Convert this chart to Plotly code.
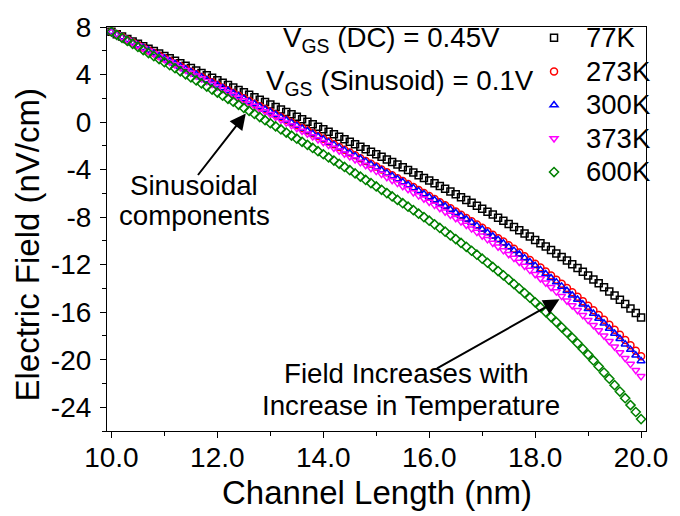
import plotly.graph_objects as go

channel_length = [
    10.0, 10.1, 10.2, 10.3, 10.4, 10.5, 10.6, 10.7, 10.8, 10.9,
    11.0, 11.1, 11.2, 11.3, 11.4, 11.5, 11.6, 11.7, 11.8, 11.9,
    12.0, 12.1, 12.2, 12.3, 12.4, 12.5, 12.6, 12.7, 12.8, 12.9,
    13.0, 13.1, 13.2, 13.3, 13.4, 13.5, 13.6, 13.7, 13.8, 13.9,
    14.0, 14.1, 14.2, 14.3, 14.4, 14.5, 14.6, 14.7, 14.8, 14.9,
    15.0, 15.1, 15.2, 15.3, 15.4, 15.5, 15.6, 15.7, 15.8, 15.9,
    16.0, 16.1, 16.2, 16.3, 16.4, 16.5, 16.6, 16.7, 16.8, 16.9,
    17.0, 17.1, 17.2, 17.3, 17.4, 17.5, 17.6, 17.7, 17.8, 17.9,
    18.0, 18.1, 18.2, 18.3, 18.4, 18.5, 18.6, 18.7, 18.8, 18.9,
    19.0, 19.1, 19.2, 19.3, 19.4, 19.5, 19.6, 19.7, 19.8, 19.9,
    20.0,
]

field_77K = [
    7.60, 7.40, 7.19, 6.99, 6.78, 6.58, 6.38, 6.17, 5.97, 5.76,
    5.56, 5.36, 5.15, 4.95, 4.74, 4.54, 4.34, 4.13, 3.93, 3.72,
    3.52, 3.31, 3.11, 2.91, 2.70, 2.50, 2.29, 2.09, 1.88, 1.68,
    1.47, 1.27, 1.06, 0.85, 0.65, 0.44, 0.23, 0.03, -0.18, -0.39,
    -0.60, -0.81, -1.02, -1.23, -1.44, -1.65, -1.86, -2.07, -2.29, -2.50,
    -2.71, -2.93, -3.15, -3.36, -3.58, -3.80, -4.03, -4.25, -4.47, -4.70,
    -4.92, -5.15, -5.38, -5.61, -5.85, -6.08, -6.32, -6.56, -6.80, -7.05,
    -7.29, -7.54, -7.79, -8.05, -8.31, -8.57, -8.83, -9.10, -9.37, -9.64,
    -9.92, -10.20, -10.48, -10.77, -11.06, -11.36, -11.66, -11.97, -12.28, -12.59,
    -12.92, -13.24, -13.57, -13.91, -14.25, -14.60, -14.96, -15.32, -15.69, -16.07,
    -16.45,
]

field_273K = [
    7.60, 7.38, 7.15, 6.93, 6.70, 6.48, 6.26, 6.03, 5.81, 5.58,
    5.36, 5.14, 4.91, 4.69, 4.46, 4.24, 4.02, 3.79, 3.57, 3.34,
    3.12, 2.89, 2.67, 2.44, 2.22, 2.00, 1.77, 1.55, 1.32, 1.09,
    0.87, 0.64, 0.42, 0.19, -0.04, -0.27, -0.49, -0.72, -0.95, -1.18,
    -1.41, -1.64, -1.87, -2.10, -2.34, -2.57, -2.80, -3.04, -3.28, -3.51,
    -3.75, -3.99, -4.23, -4.48, -4.72, -4.97, -5.21, -5.46, -5.71, -5.97,
    -6.22, -6.48, -6.74, -7.00, -7.26, -7.53, -7.80, -8.07, -8.34, -8.62,
    -8.90, -9.19, -9.48, -9.77, -10.06, -10.36, -10.67, -10.97, -11.29, -11.60,
    -11.93, -12.25, -12.58, -12.92, -13.27, -13.61, -13.97, -14.33, -14.70, -15.07,
    -15.45, -15.84, -16.24, -16.64, -17.05, -17.47, -17.90, -18.34, -18.78, -19.24,
    -19.70,
]

field_300K = [
    7.60, 7.37, 7.15, 6.92, 6.70, 6.47, 6.25, 6.02, 5.80, 5.57,
    5.35, 5.12, 4.90, 4.67, 4.45, 4.22, 4.00, 3.77, 3.55, 3.32,
    3.10, 2.87, 2.65, 2.42, 2.20, 1.97, 1.74, 1.52, 1.29, 1.06,
    0.84, 0.61, 0.38, 0.15, -0.07, -0.30, -0.53, -0.76, -0.99, -1.22,
    -1.45, -1.69, -1.92, -2.15, -2.39, -2.62, -2.86, -3.09, -3.33, -3.57,
    -3.81, -4.05, -4.30, -4.54, -4.79, -5.04, -5.29, -5.54, -5.79, -6.05,
    -6.30, -6.56, -6.83, -7.09, -7.36, -7.63, -7.90, -8.18, -8.46, -8.74,
    -9.02, -9.31, -9.61, -9.90, -10.20, -10.51, -10.82, -11.13, -11.45, -11.78,
    -12.10, -12.44, -12.78, -13.12, -13.47, -13.83, -14.20, -14.57, -14.94, -15.33,
    -15.72, -16.12, -16.53, -16.94, -17.37, -17.80, -18.24, -18.69, -19.15, -19.62,
    -20.10,
]

field_373K = [
    7.60, 7.37, 7.14, 6.91, 6.68, 6.44, 6.21, 5.98, 5.75, 5.52,
    5.29, 5.06, 4.83, 4.60, 4.37, 4.13, 3.90, 3.67, 3.44, 3.21,
    2.98, 2.75, 2.51, 2.28, 2.05, 1.82, 1.59, 1.35, 1.12, 0.89,
    0.66, 0.42, 0.19, -0.05, -0.28, -0.52, -0.75, -0.99, -1.22, -1.46,
    -1.70, -1.94, -2.18, -2.42, -2.66, -2.90, -3.15, -3.39, -3.64, -3.89,
    -4.13, -4.38, -4.64, -4.89, -5.14, -5.40, -5.66, -5.92, -6.19, -6.45,
    -6.72, -6.99, -7.26, -7.54, -7.82, -8.10, -8.38, -8.67, -8.97, -9.26,
    -9.56, -9.87, -10.17, -10.49, -10.80, -11.13, -11.45, -11.78, -12.12, -12.46,
    -12.81, -13.17, -13.53, -13.90, -14.27, -14.65, -15.04, -15.44, -15.84, -16.25,
    -16.67, -17.10, -17.54, -17.99, -18.44, -18.91, -19.39, -19.87, -20.37, -20.88,
    -21.40,
]

field_600K = [
    7.60, 7.34, 7.09, 6.83, 6.58, 6.32, 6.06, 5.81, 5.55, 5.30,
    5.04, 4.78, 4.53, 4.27, 4.02, 3.76, 3.50, 3.25, 2.99, 2.73,
    2.48, 2.22, 1.96, 1.71, 1.45, 1.19, 0.94, 0.68, 0.42, 0.16,
    -0.10, -0.36, -0.62, -0.88, -1.14, -1.40, -1.66, -1.92, -2.18, -2.45,
    -2.71, -2.98, -3.24, -3.51, -3.78, -4.05, -4.32, -4.59, -4.87, -5.14,
    -5.42, -5.70, -5.98, -6.26, -6.55, -6.83, -7.12, -7.41, -7.71, -8.00,
    -8.30, -8.61, -8.91, -9.22, -9.54, -9.85, -10.17, -10.50, -10.83, -11.16,
    -11.50, -11.84, -12.19, -12.54, -12.90, -13.26, -13.63, -14.01, -14.39, -14.78,
    -15.17, -15.58, -15.99, -16.41, -16.83, -17.27, -17.71, -18.16, -18.62, -19.09,
    -19.57, -20.06, -20.57, -21.08, -21.60, -22.14, -22.68, -23.24, -23.82, -24.40,
    -25.00,
]

series_names = ["77K", "273K", "300K", "373K", "600K"]
series_values = [field_77K, field_273K, field_300K, field_373K, field_600K]
series_colors = ["#000000", "#FF0000", "#0000FF", "#FF00FF", "#008000"]
series_symbols = ["square-open", "circle-open", "triangle-up-open",
                  "triangle-down-open", "diamond-open"]

y_tickvals = [-24, -20, -16, -12, -8, -4, 0, 4, 8]
y_ticktext = ["-24", "-20", "-16", "-12", "-8", "-4", "0", "4", "8"]

FONT = "Liberation Sans, Arial, sans-serif"

fig = go.Figure()
for name, vals, col, sym in zip(series_names, series_values, series_colors, series_symbols):
    fig.add_trace(go.Scatter(
        x=channel_length, y=vals, mode="markers",
        name='<span style="font-size:27.5px">' + name + '</span>',
        marker=dict(symbol=sym, size=7, color=col, line=dict(width=1.5, color=col)),
    ))

fig.update_layout(
    width=680, height=516,
    margin=dict(l=107, r=25, t=20, b=85),
    paper_bgcolor="white", plot_bgcolor="white",
    font=dict(family=FONT, color="black"),
    showlegend=True,
    legend=dict(
        x=0.770, y=1.027, xanchor="left", yanchor="top",
        bgcolor="rgba(0,0,0,0)", borderwidth=0,
        font=dict(size=23.5, family=FONT, color="black"),
        itemwidth=54, tracegroupgap=0,
    ),
)

fig.update_xaxes(
    range=[9.916, 20.093], showgrid=False, zeroline=False,
    showline=True, linecolor="black", linewidth=1.2, mirror=True,
    ticks="outside", ticklen=6, tickwidth=1.2, tickcolor="black",
    dtick=2, tick0=0, tickformat=".1f", ticklabelstandoff=-5,
    tickfont=dict(size=28, family=FONT, color="black"),
    minor=dict(dtick=1, tick0=0, ticks="outside", ticklen=4, tickwidth=1.2, tickcolor="black"),
)
fig.update_yaxes(
    range=[-26, 8], showgrid=False, zeroline=False,
    showline=True, linecolor="black", linewidth=1.2, mirror=True,
    ticks="outside", ticklen=6, tickwidth=1.2, tickcolor="black",
    tickmode="array", tickvals=y_tickvals, ticktext=y_ticktext, ticklabelstandoff=3,
    tickfont=dict(size=28, family=FONT, color="black"),
    minor=dict(tickmode="linear", dtick=2, tick0=0, ticks="outside", ticklen=4,
               tickwidth=1.2, tickcolor="black"),
)

def px_x(p):
    return (p - 107) / 548.0

def px_y(p):
    return (431 - p) / 411.0

texts = [
    ("Channel Length (nm)", 381, 493.5, 33, 0),
    ("Electric Field (nV/cm)", 26.5, 241.5, 33, -90),
    ("V<sub>GS</sub> (DC) = 0.45V", 396, 33, 27.7, 0),
    ("V<sub>GS</sub> (Sinusoid) = 0.1V", 405, 76, 27.7, 0),
    ("Sinusoidal", 195, 181.5, 27.7, 0),
    ("components", 196, 212, 27.7, 0),
    ("Field Increases with", 411, 372, 27.7, 0),
    ("Increase in Temperature", 416, 405, 27.7, 0),
]
for t, xp, yp, fs, ang in texts:
    fig.add_annotation(
        text=t, xref="paper", yref="paper", x=px_x(xp), y=px_y(yp),
        xanchor="center", yanchor="middle", showarrow=False, textangle=ang,
        font=dict(size=fs, family=FONT, color="black"),
    )

# arrows (heads in data coordinates, tails as pixel offsets)
arrows = [
    (12.537, 0.72, -49, 63),
    (18.46, -14.92, -124, 70),
]
for hx, hy, ax, ay in arrows:
    fig.add_annotation(
        x=hx, y=hy, xref="x", yref="y", text="", showarrow=True,
        ax=ax, ay=ay, axref="pixel", ayref="pixel",
        arrowhead=2, arrowsize=1.6, arrowwidth=2, arrowcolor="black", standoff=0,
    )

fig.write_html("out.html")
